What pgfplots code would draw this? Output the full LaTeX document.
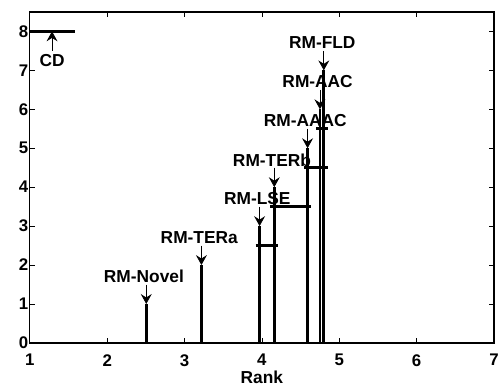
\documentclass[border=0pt]{standalone}
\usepackage{pgfplots}
\pgfplotsset{compat=1.18}
\usepackage{fontspec}
\setmainfont{Liberation Sans}
\usetikzlibrary{arrows.meta}
\begin{document}
\begin{tikzpicture}
\begin{axis}[
  scale only axis,
  width=467bp, height=333bp,
  xmin=1, xmax=7, ymin=0, ymax=8.5,
  xtick={1,2,3,4,5,6,7}, ytick={0,1,2,3,4,5,6,7,8},
  tick align=inside,
  major tick length=5bp,
  axis line style={line width=1.3bp},
  every tick/.style={black, line width=0.8bp},
  tick label style={font=\fontsize{17}{19}\selectfont\bfseries},
  /pgf/number format/assume math mode=true,
  xticklabel style={yshift=-8bp},
  yticklabel style={xshift=2bp},
  xlabel={Rank},
  xlabel style={font=\fontsize{17.5}{19}\selectfont\bfseries, yshift=2.5bp},
  clip=false,
]
% labels (drawn first so that lines pass over them)
\node[font=\fontsize{17.5}{19}\selectfont\bfseries] at (axis cs:2.475,1.70) {RM-Novel};
\node[font=\fontsize{17.5}{19}\selectfont\bfseries] at (axis cs:3.19,2.70) {RM-TERa};
\node[font=\fontsize{17.5}{19}\selectfont\bfseries] at (axis cs:3.94,3.70) {RM-LSE};
\node[font=\fontsize{17.5}{19}\selectfont\bfseries] at (axis cs:4.13,4.70) {RM-TERb};
\node[font=\fontsize{17.5}{19}\selectfont\bfseries] at (axis cs:4.56,5.70) {RM-AAAC};
\node[font=\fontsize{17.5}{19}\selectfont\bfseries] at (axis cs:4.72,6.70) {RM-AAC};
\node[font=\fontsize{17.5}{19}\selectfont\bfseries] at (axis cs:4.78,7.72) {RM-FLD};
\node[font=\fontsize{17.5}{19}\selectfont\bfseries] at (axis cs:1.287,7.24) {CD};
% vertical rank lines
\addplot[black, line width=2.8bp] coordinates {(2.505,0) (2.505,1)};
\addplot[black, line width=2.8bp] coordinates {(3.218,0) (3.218,2)};
\addplot[black, line width=2.8bp] coordinates {(3.97,0) (3.97,3)};
\addplot[black, line width=2.8bp] coordinates {(4.16,0) (4.16,4)};
\addplot[black, line width=2.8bp] coordinates {(4.59,0) (4.59,5)};
\addplot[black, line width=2.8bp] coordinates {(4.75,0) (4.75,6)};
\addplot[black, line width=2.8bp] coordinates {(4.80,0) (4.80,7)};
% clique bars
\addplot[black, line width=3.5bp] coordinates {(3.92,2.5) (4.21,2.5)};
\addplot[black, line width=3.5bp] coordinates {(4.11,3.5) (4.64,3.5)};
\addplot[black, line width=3.5bp] coordinates {(4.54,4.5) (4.85,4.5)};
\addplot[black, line width=3.5bp] coordinates {(4.70,5.5) (4.85,5.5)};
% CD bar
\addplot[black, line width=3.2bp] coordinates {(1,8) (1.58,8)};
% arrows
\addplot[black, line width=0.8bp, -{Stealth[length=10bp,width=11bp,inset=3.5bp]}] coordinates {(2.505,1.5) (2.505,1)};
\addplot[black, line width=0.8bp, -{Stealth[length=10bp,width=11bp,inset=3.5bp]}] coordinates {(3.218,2.5) (3.218,2)};
\addplot[black, line width=0.8bp, -{Stealth[length=10bp,width=11bp,inset=3.5bp]}] coordinates {(3.97,3.5) (3.97,3)};
\addplot[black, line width=0.8bp, -{Stealth[length=10bp,width=11bp,inset=3.5bp]}] coordinates {(4.16,4.5) (4.16,4)};
\addplot[black, line width=0.8bp, -{Stealth[length=10bp,width=11bp,inset=3.5bp]}] coordinates {(4.59,5.5) (4.59,5)};
\addplot[black, line width=0.8bp, -{Stealth[length=10bp,width=11bp,inset=3.5bp]}] coordinates {(4.75,6.5) (4.75,6)};
\addplot[black, line width=0.8bp, -{Stealth[length=10bp,width=11bp,inset=3.5bp]}] coordinates {(4.80,7.5) (4.80,7)};
\addplot[black, line width=0.8bp, -{Stealth[length=10bp,width=11bp,inset=3.5bp]}] coordinates {(1.287,7.5) (1.287,8)};
% bounding box matching the reference margins
\path ([xshift=-30bp,yshift=-38bp]rel axis cs:0,0) rectangle ([xshift=5bp,yshift=12bp]rel axis cs:1,1);
\end{axis}
\end{tikzpicture}
\end{document}
